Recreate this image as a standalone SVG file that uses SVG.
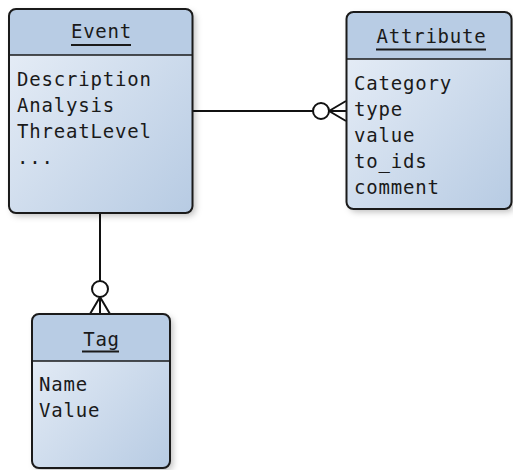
<svg xmlns="http://www.w3.org/2000/svg" width="513" height="470" viewBox="0 0 513 470">
<style>
.box{stroke:#1a1a1a;stroke-width:2}
.hdr{fill:#b8cce4;stroke:none}
.div{stroke:#1a1a1a;stroke-width:1.5}
.t{font-family:"DejaVu Sans Mono","Liberation Mono",monospace;font-size:19px;letter-spacing:0.8px;fill:#1a1a1a}
.ttl{text-anchor:middle}
.ul{stroke:#1a1a1a;stroke-width:2}
.c{stroke:#111;stroke-width:2;fill:none}
.cw{stroke:#111;stroke-width:2;fill:#fff}
</style>
<defs>
<linearGradient id="g" x1="0" y1="0" x2="1" y2="1">
<stop offset="0" stop-color="#eaf0f8"/>
<stop offset="1" stop-color="#b7cbe3"/>
</linearGradient>
<filter id="sh" x="-10%" y="-10%" width="130%" height="130%">
<feDropShadow dx="3" dy="3" stdDeviation="3" flood-color="#000" flood-opacity="0.25"/>
</filter>
</defs>
<g id="connectors">
<line class="c" x1="193" y1="111" x2="313" y2="111"/>
<circle class="cw" cx="321" cy="111" r="8"/>
<path class="c" d="M329 111 L346 101 M329 111 L346 111 M329 111 L346 121"/>
<line class="c" x1="100" y1="213" x2="100" y2="281"/>
<circle class="cw" cx="100" cy="289" r="8"/>
<path class="c" d="M100 297 L90 314 M100 297 L100 314 M100 297 L110 314"/>
</g>
<g id="event">
<rect x="9" y="9" width="183.5" height="204" rx="7" fill="url(#g)" filter="url(#sh)"/>
<path class="hdr" d="M9 55 V16 a7 7 0 0 1 7 -7 H185.5 a7 7 0 0 1 7 7 V55 Z"/>
<line class="div" x1="9" y1="55" x2="192.5" y2="55"/>
<rect class="box" x="9" y="9" width="183.5" height="204" rx="7" fill="none"/>
<text class="t ttl" x="101.5" y="38">Event</text>
<line class="ul" x1="71" y1="45" x2="131" y2="45"/>
<text class="t" x="17" y="86">Description</text>
<text class="t" x="17" y="112">Analysis</text>
<text class="t" x="17" y="138">ThreatLevel</text>
<text class="t" x="17" y="164">...</text>
</g>
<g id="attribute">
<rect x="346.5" y="12" width="165" height="197" rx="7" fill="url(#g)" filter="url(#sh)"/>
<path class="hdr" d="M346.5 59 V19 a7 7 0 0 1 7 -7 H504.5 a7 7 0 0 1 7 7 V59 Z"/>
<line class="div" x1="346.5" y1="59" x2="511.5" y2="59"/>
<rect class="box" x="346.5" y="12" width="165" height="197" rx="7" fill="none"/>
<text class="t ttl" x="431.5" y="43">Attribute</text>
<line class="ul" x1="376" y1="49.5" x2="486" y2="49.5"/>
<text class="t" x="354" y="90">Category</text>
<text class="t" x="354" y="116">type</text>
<text class="t" x="354" y="142">value</text>
<text class="t" x="354" y="168">to_ids</text>
<text class="t" x="354" y="194">comment</text>
</g>
<g id="tag">
<rect x="32" y="314" width="138" height="154" rx="7" fill="url(#g)" filter="url(#sh)"/>
<path class="hdr" d="M32 361 V321 a7 7 0 0 1 7 -7 H163 a7 7 0 0 1 7 7 V361 Z"/>
<line class="div" x1="32" y1="361" x2="170" y2="361"/>
<rect class="box" x="32" y="314" width="138" height="154" rx="7" fill="none"/>
<text class="t ttl" x="101.5" y="346">Tag</text>
<line class="ul" x1="82" y1="351.5" x2="119" y2="351.5"/>
<text class="t" x="39" y="391">Name</text>
<text class="t" x="39" y="417">Value</text>
</g>
</svg>
